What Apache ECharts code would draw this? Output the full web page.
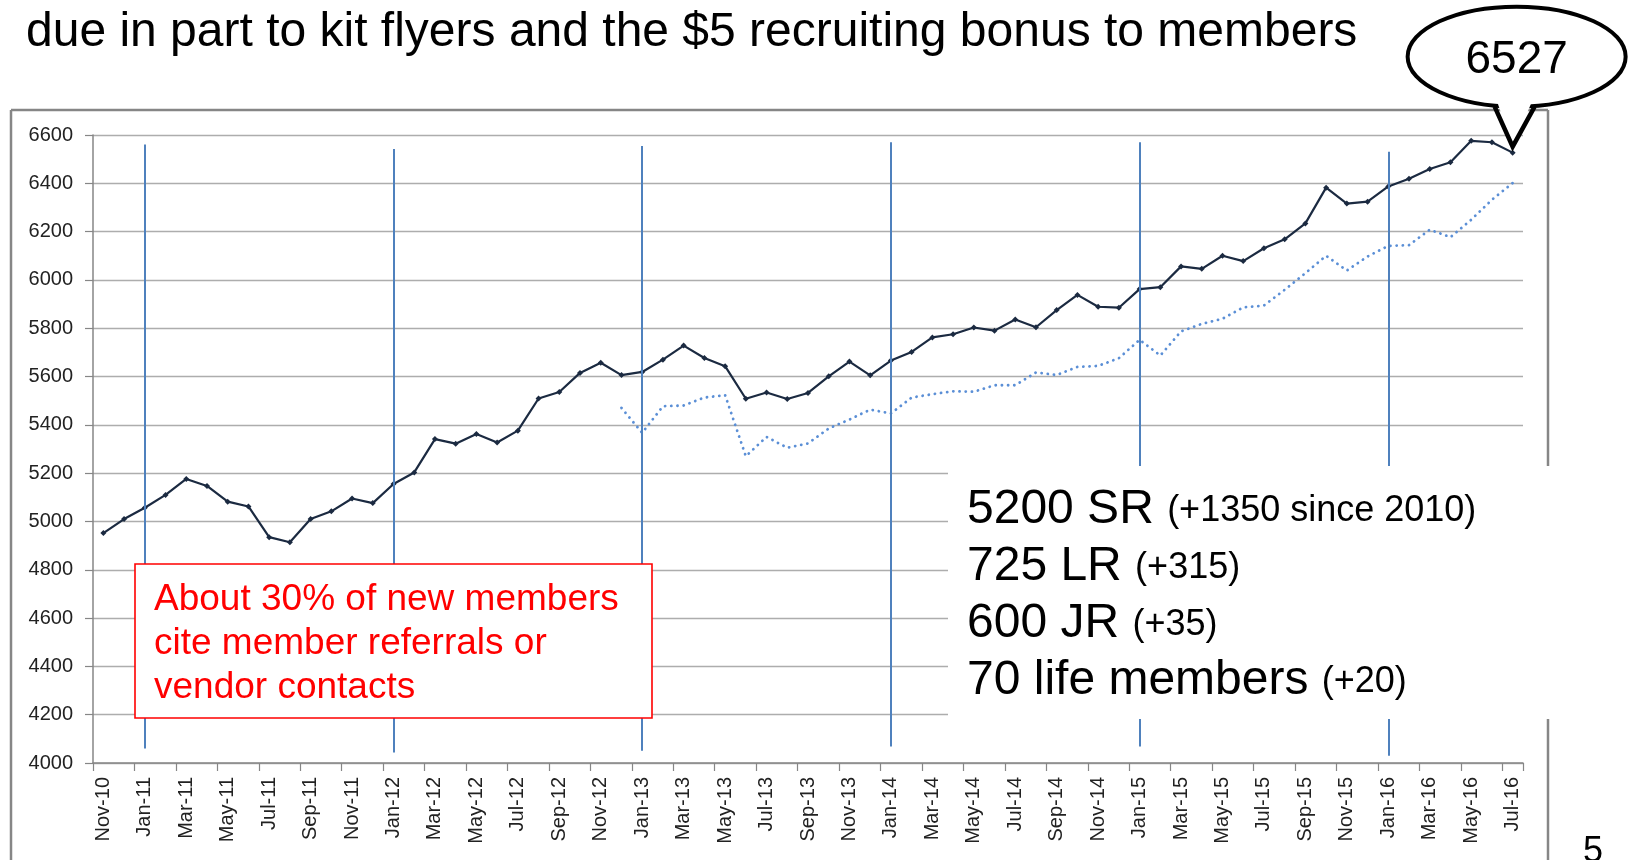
<!DOCTYPE html>
<html><head><meta charset="utf-8">
<script src="https://cdn.jsdelivr.net/npm/echarts@6/dist/echarts.min.js"></script>
<style>html,body{margin:0;padding:0;background:#fff;}#c{width:1630px;height:860px;}</style>
</head><body><div id="c"></div>
<script>
const categories = ['Nov-10','Dec-10',
 'Jan-11','Feb-11','Mar-11','Apr-11','May-11','Jun-11','Jul-11','Aug-11','Sep-11','Oct-11','Nov-11','Dec-11',
 'Jan-12','Feb-12','Mar-12','Apr-12','May-12','Jun-12','Jul-12','Aug-12','Sep-12','Oct-12','Nov-12','Dec-12',
 'Jan-13','Feb-13','Mar-13','Apr-13','May-13','Jun-13','Jul-13','Aug-13','Sep-13','Oct-13','Nov-13','Dec-13',
 'Jan-14','Feb-14','Mar-14','Apr-14','May-14','Jun-14','Jul-14','Aug-14','Sep-14','Oct-14','Nov-14','Dec-14',
 'Jan-15','Feb-15','Mar-15','Apr-15','May-15','Jun-15','Jul-15','Aug-15','Sep-15','Oct-15','Nov-15','Dec-15',
 'Jan-16','Feb-16','Mar-16','Apr-16','May-16','Jun-16','Jul-16'];

const members = [4952,5010,
 5057,5110,5176,5147,5082,5062,4935,4914,5010,5042,5095,5076,
 5155,5203,5341,5322,5362,5327,5376,5509,5536,5615,5657,5606,
 5619,5670,5728,5677,5643,5508,5534,5507,5532,5601,5662,5605,
 5666,5702,5762,5775,5803,5790,5836,5804,5875,5938,5889,5885,
 5962,5970,6056,6046,6100,6078,6131,6168,6234,6382,6316,6324,
 6387,6419,6459,6487,6576,6570,6527];

const trend = [null,null,
 null,null,null,null,null,null,null,null,null,null,null,null,
 null,null,null,null,null,null,null,null,null,null,null,5470,
 5367,5477,5480,5513,5523,5270,5350,5305,5323,5385,5422,5463,
 5447,5513,5527,5539,5537,5564,5564,5617,5606,5640,5644,5676,
 5752,5687,5787,5818,5839,5886,5894,5959,6028,6100,6039,6097,
 6141,6144,6208,6177,6249,6332,6401];

const yMin = 4000, yMax = 6600, yStep = 200;

const janMonths = ['Jan-11','Jan-12','Jan-13','Jan-14','Jan-15','Jan-16'];
const janTop    = [6561,6542,6554,6570,6570,6531];
const janBottom = [4060,4043,4051,4068,4068,4030];

const titleText = 'due in part to kit flyers and the $5 recruiting bonus to members';
const noteLines = ['About 30% of new members','cite member referrals or','vendor contacts'];
const statMain = ['5200 SR','725 LR','600 JR','70 life members'];
const statSub  = ['(+1350 since 2010)','(+315)','(+35)','(+20)'];

const FF = 'Liberation Sans, Arial, sans-serif';
const chart = echarts.init(document.getElementById('c'), null, {renderer:'canvas'});

const markData = janMonths.map((m,i)=>[{coord:[m, janTop[i]]},{coord:[m, janBottom[i]]}]);

chart.setOption({
  animation:false,
  backgroundColor:'#fff',
  grid:{left:93,right:107,top:135,bottom:97,containLabel:false},
  xAxis:{
    type:'category', data:categories, boundaryGap:true,
    axisLine:{lineStyle:{color:'#868686',width:1.5}},
    axisTick:{show:true,interval:1,length:8,lineStyle:{color:'#868686',width:1.2}},
    axisLabel:{interval:1,rotate:90,fontSize:20,fontFamily:FF,color:'#222',margin:14},
    splitLine:{show:false}
  },
  yAxis:{
    type:'value', min:yMin, max:yMax, interval:yStep,
    axisLine:{show:true,lineStyle:{color:'#868686',width:1.5}},
    axisTick:{show:true,length:8,lineStyle:{color:'#868686',width:1.2}},
    axisLabel:{fontSize:20,fontFamily:FF,color:'#222',margin:20,formatter:(v)=>String(v)},
    splitLine:{show:true,lineStyle:{color:'#ADADAD',width:1.3}}
  },
  series:[
    {
      type:'line', data:members, symbol:'diamond', symbolSize:6,
      itemStyle:{color:'#1B2A41'}, lineStyle:{color:'#1B2A41',width:2.2}, z:4,
      markLine:{silent:true,symbol:['none','none'],label:{show:false},
        lineStyle:{color:'#4F81BD',width:2,type:'solid'},data:markData}
    },
    {
      type:'line', data:trend, showSymbol:false, symbol:'none', connectNulls:false,
      lineStyle:{color:'#5B8FD6',width:2.8,type:[0.1,6.1],cap:'round'}, z:3
    }
  ]
});

const last = members.length-1;
const p = chart.convertToPixel({seriesIndex:0},[last, members[last]]);
const tip = [p[0], p[1]-6];
const ec = [tip[0]+4, tip[1]-90];
const lb = [tip[0]-18, tip[1]-40], rb = [tip[0]+22, tip[1]-40];

const g = [];
// outer frame
g.push({type:'line',shape:{x1:11,y1:110,x2:1548,y2:110},style:{stroke:'#868686',lineWidth:2.5},z:1});
g.push({type:'line',shape:{x1:11,y1:110,x2:11,y2:860},style:{stroke:'#868686',lineWidth:2.5},z:1});
g.push({type:'line',shape:{x1:1548,y1:110,x2:1548,y2:860},style:{stroke:'#868686',lineWidth:2.5},z:1});
// white stats box
g.push({type:'rect',shape:{x:948,y:466,width:700,height:253},style:{fill:'#fff'},z:100});
statMain.forEach((t,i)=>{
  g.push({type:'text',x:967,y:510+i*57,z:110,style:{
    text:'{b|'+t+' }{s|'+statSub[i]+'}',
    verticalAlign:'middle',align:'left',
    rich:{
      b:{fontSize:48,fontFamily:FF,fill:'#000',verticalAlign:'bottom'},
      s:{fontSize:36,fontFamily:FF,fill:'#000',verticalAlign:'bottom',padding:[0,0,5,0]}
    }
  }});
});
// red note box
g.push({type:'rect',shape:{x:135,y:564,width:517,height:154},style:{fill:'#fff',stroke:'#FF0000',lineWidth:1.6},z:100});
g.push({type:'text',x:154,y:578,z:110,style:{text:noteLines.join('\n'),fontSize:37,fontFamily:FF,fill:'#FF0000',lineHeight:44,align:'left',verticalAlign:'top'}});
// title
g.push({type:'text',x:26,y:33,z:110,style:{text:titleText,fontSize:48,fontFamily:FF,fill:'#000',align:'left',verticalAlign:'middle'}});
// bubble
g.push({type:'ellipse',shape:{cx:ec[0],cy:ec[1],rx:109,ry:50},style:{fill:'#fff',stroke:'#000',lineWidth:4},z:200});
g.push({type:'polygon',shape:{points:[[lb[0]+1.5,lb[1]-8],tip,[rb[0]-1.5,rb[1]-8]]},style:{fill:'#fff'},z:201});
g.push({type:'polyline',shape:{points:[lb,tip,rb]},style:{stroke:'#000',lineWidth:4.5,lineJoin:'miter',fill:null},z:202});
g.push({type:'text',x:ec[0],y:ec[1]+4,z:203,style:{text:String(members[last]),fontSize:46,fontFamily:FF,fill:'#000',align:'center',verticalAlign:'middle'}});
// page number
g.push({type:'text',x:1583,y:834,z:110,style:{text:'5',fontSize:36,fontFamily:FF,fill:'#000',align:'left',verticalAlign:'top'}});

chart.setOption({graphic:g});
</script>
</body></html>
